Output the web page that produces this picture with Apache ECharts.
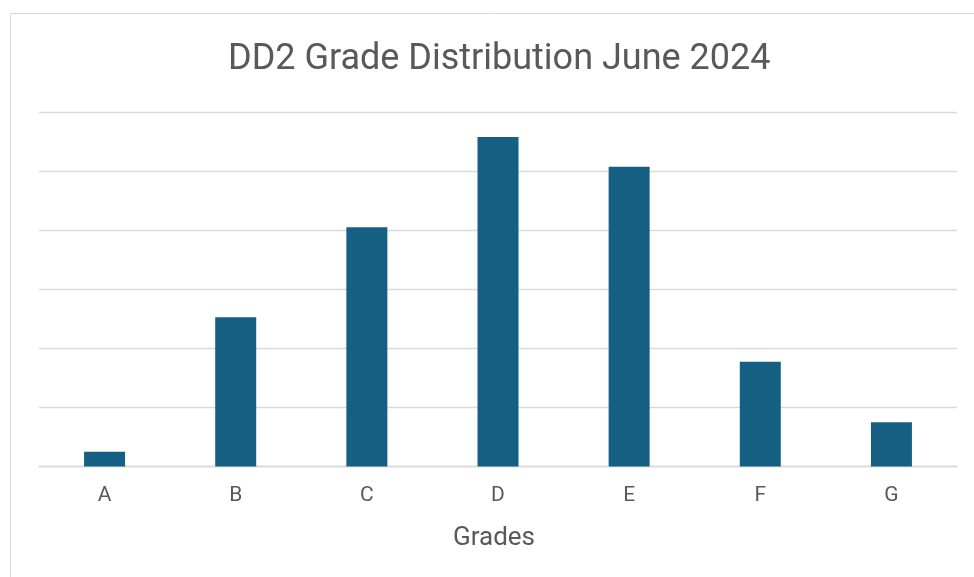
<!DOCTYPE html>
<html>
<head>
<meta charset="utf-8">
<style>html,body{margin:0;padding:0;background:#fff}#c{width:974px;height:577px}</style>
<script src="https://cdn.jsdelivr.net/npm/echarts@6/dist/echarts.min.js"></script>
</head>
<body>
<div id="c"></div>
<script>
const categories = ['A','B','C','D','E','F','G'];
const values = [1, 10.1, 16.2, 22.3, 20.3, 7.1, 3];
const chartTitle = 'DD2 Grade Distribution June 2024';
const xName = 'Grades';

const chart = echarts.init(document.getElementById('c'), null, {renderer:'canvas'});
chart.setOption({
  animation:false,
  backgroundColor:'#fff',
  graphic:[{type:'rect', shape:{x:10.5,y:13.5,width:1000,height:700}, style:{fill:'none', stroke:'#d9d9d9', lineWidth:1}, silent:true}],
  title:{text:chartTitle, left:223, top:37, textStyle:{fontFamily:'Roboto', fontWeight:'normal', fontSize:36, color:'#595959'}},
  grid:{left:39, right:17, top:112, bottom:110.5},
  xAxis:{type:'category', data:categories, name:xName, nameLocation:'middle', nameGap:59,
    nameTextStyle:{fontFamily:'Roboto', fontSize:26, color:'#595959', padding:[0,8,0,0]},
    axisLine:{lineStyle:{color:'#d9d9d9', width:1.3}}, axisTick:{show:false},
    axisLabel:{fontFamily:'Roboto', fontSize:21, color:'#595959', margin:19}},
  yAxis:{type:'value', min:0, max:24, interval:4, axisLabel:{show:false}, axisLine:{show:false}, axisTick:{show:false},
    splitLine:{lineStyle:{color:'#d9d9d9', width:1.3}}},
  series:[{type:'bar', data:values, barWidth:41, itemStyle:{color:'#156082'}}]
});
</script>
</body>
</html>
